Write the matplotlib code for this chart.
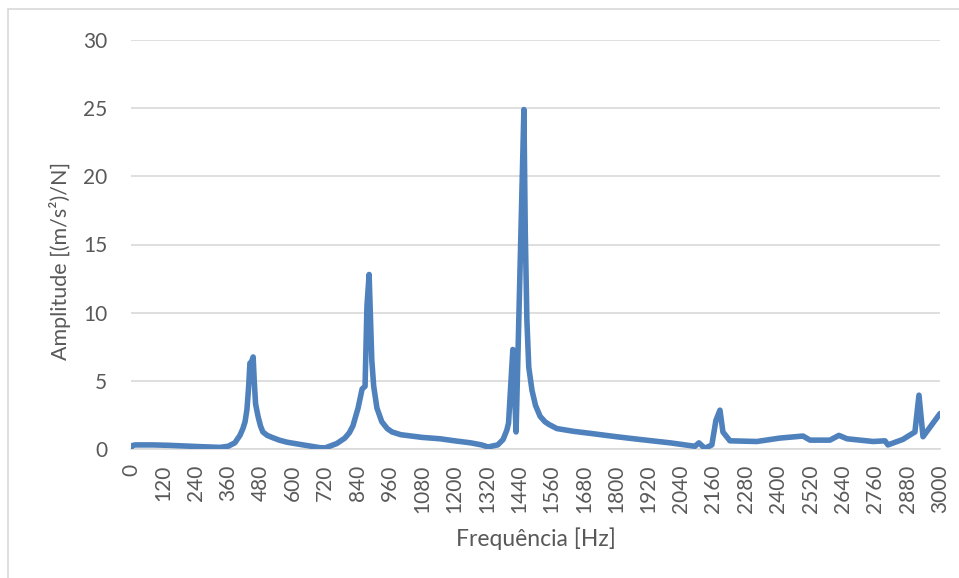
import matplotlib
matplotlib.use("Agg")
import matplotlib.pyplot as plt
from matplotlib.patches import Rectangle

freq = [0, 5, 15, 80, 140, 200, 260, 330, 360, 385, 404, 415, 423, 430, 436, 441, 447, 453,
        457, 462, 471, 480, 489, 505, 523, 550, 578, 638, 700, 720, 763, 793, 810, 823, 842,
        857, 868, 875, 883, 889, 893, 900, 912, 930, 950, 968, 1000, 1080, 1146, 1200, 1260,
        1300, 1324, 1360, 1380, 1394, 1400, 1416, 1428, 1457, 1462, 1468, 1475, 1487, 1500,
        1517, 1535, 1550, 1579, 1640, 1702, 1800, 1887, 2000, 2091, 2106, 2128, 2154, 2169,
        2184, 2195, 2221, 2321, 2406, 2492, 2518, 2592, 2625, 2655, 2752, 2796, 2807, 2862,
        2907, 2922, 2937, 2963, 3000]
amp = [0.1, 0.25, 0.3, 0.3, 0.27, 0.22, 0.17, 0.12, 0.2, 0.45, 1.0, 1.5, 2.0, 2.9, 4.5, 6.3, 6.4,
       6.75, 5.0, 3.3, 2.4, 1.7, 1.25, 1.0, 0.85, 0.65, 0.5, 0.3, 0.1, 0.08, 0.4, 0.8, 1.2, 1.7,
       3.0, 4.4, 4.6, 10.5, 12.8, 9.0, 6.5, 4.6, 3.0, 2.0, 1.5, 1.25, 1.05, 0.85, 0.75, 0.6, 0.45,
       0.3, 0.15, 0.3, 0.7, 1.4, 1.9, 7.3, 1.25, 24.9, 16.0, 9.5, 6.0, 4.3, 3.2,
       2.4, 2.0, 1.8, 1.5, 1.3, 1.15, 0.9, 0.7, 0.45, 0.2, 0.45, 0.05, 0.3, 2.1,
       2.85, 1.25, 0.6, 0.55, 0.8, 0.95, 0.65, 0.65, 1.0, 0.75, 0.55, 0.6, 0.3, 0.7,
       1.25, 3.95, 0.9, 1.6, 2.6]

x_ticks = list(range(0, 3001, 120))
y_ticks = [0, 5, 10, 15, 20, 25, 30]

plt.rcParams['font.family'] = ['Lato', 'DejaVu Sans']
txt = '#595959'

fig = plt.figure(figsize=(9.59, 5.78), dpi=100)
ax = fig.add_axes([131/959, 1-449/578, (940-131)/959, (449-40)/578])

ax.plot(freq, amp, color='#4F81BD', lw=4.0, solid_joinstyle='round', solid_capstyle='round', zorder=3)

ax.set_xlim(0, 3000)
ax.set_ylim(0, 30)
ax.set_xticks(x_ticks)
ax.set_xticklabels([str(v) for v in x_ticks], rotation=90, fontsize=15, color=txt)
ax.set_yticks(y_ticks)
ax.set_yticklabels([str(v) for v in y_ticks], fontsize=15, color=txt)
ax.tick_params(axis='x', length=0, pad=11)
ax.tick_params(axis='y', length=0, pad=17)
ax.grid(axis='y', color='#D9D9D9', lw=1.2, zorder=0)
for s in ['top', 'right', 'left']:
    ax.spines[s].set_visible(False)
ax.spines['bottom'].set_color('#D9D9D9')
ax.spines['bottom'].set_linewidth(1.2)
ax.set_axisbelow(True)

ax.set_xlabel('Frequência [Hz]', fontsize=16.5, color=txt)
ax.xaxis.label.set_va('center')
ax.xaxis.set_label_coords(0.5, (449-539)/409)
ax.set_ylabel('Amplitude [(m/s²)/N]', fontsize=15.5, color=txt)
ax.yaxis.label.set_va('center')
ax.yaxis.set_label_coords((60-131)/809, 0.46)

fig.patches.append(Rectangle((8/959, -0.1), 1.2, 1 - 9/578 + 0.1, transform=fig.transFigure,
                             fill=False, edgecolor='#D9D9D9', lw=1.2))

fig.savefig('out.png', dpi=100)
